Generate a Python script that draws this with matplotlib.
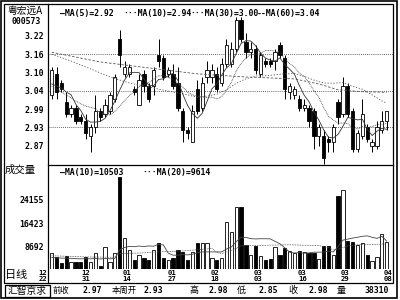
import matplotlib.pyplot as plt
from matplotlib.patches import Rectangle

plt.rcParams['font.family'] = ['DejaVu Sans Mono']
cjk = ['Noto Sans CJK SC', 'DejaVu Sans']

# ---- daily candles (price) ----
opens = [3.03, 3.10, 3.07, 3.01, 2.97, 2.99, 2.96, 2.95, 2.90, 2.93,
         2.98, 2.97, 2.98, 3.02, 3.21, 3.10, 3.10, 3.05, 3.00, 3.10,
         3.06, 3.06, 3.16, 3.15, 3.10, 3.10, 3.07, 2.98, 2.92, 2.88,
         3.05, 2.99, 3.09, 3.09, 3.10, 3.07, 3.13, 3.13, 3.18, 3.27,
         3.20, 3.17, 3.18, 3.10, 3.14, 3.14, 3.14, 3.19, 3.15, 3.04,
         3.03, 3.02, 2.99, 2.99, 2.98, 2.90, 2.90, 2.89, 2.88, 3.01,
         2.97, 3.06, 2.98, 2.86, 2.90, 2.93, 2.87, 2.87, 2.92, 2.95]
highs = [3.12, 3.12, 3.08, 3.04, 3.00, 3.00, 2.97, 2.97, 2.94, 3.03,
         2.99, 3.02, 3.04, 3.10, 3.24, 3.14, 3.13, 3.06, 3.10, 3.11,
         3.07, 3.12, 3.21, 3.16, 3.12, 3.13, 3.12, 2.99, 2.93, 3.00,
         3.08, 3.09, 3.14, 3.13, 3.12, 3.15, 3.21, 3.20, 3.28, 3.28,
         3.23, 3.20, 3.19, 3.17, 3.15, 3.15, 3.18, 3.20, 3.16, 3.07,
         3.06, 3.03, 3.02, 3.00, 2.99, 2.94, 2.92, 2.90, 2.94, 3.02,
         3.09, 3.07, 2.99, 2.92, 3.02, 2.94, 2.89, 2.95, 2.98, 2.98]
lows = [3.02, 3.02, 3.04, 2.96, 2.96, 2.94, 2.94, 2.89, 2.85, 2.91,
        2.95, 2.96, 2.97, 3.01, 3.12, 3.09, 3.09, 3.03, 3.00, 3.04,
        3.01, 3.03, 3.12, 3.08, 3.09, 3.05, 2.98, 2.88, 2.89, 2.88,
        2.97, 2.98, 3.07, 3.07, 3.04, 3.06, 3.12, 3.12, 3.17, 3.20,
        3.15, 3.15, 3.10, 3.09, 3.12, 3.12, 3.11, 3.15, 3.02, 3.02,
        3.02, 2.98, 2.98, 2.93, 2.86, 2.87, 2.81, 2.85, 2.85, 2.94,
        2.96, 2.96, 2.85, 2.85, 2.89, 2.88, 2.85, 2.86, 2.91, 2.92]
closes = [3.11, 3.04, 3.05, 2.97, 2.99, 2.95, 2.95, 2.91, 2.93, 2.98,
          2.96, 3.00, 3.03, 3.09, 3.16, 3.12, 3.12, 3.04, 3.08, 3.06,
          3.02, 3.11, 3.14, 3.09, 3.11, 3.06, 2.99, 2.92, 2.91, 2.98,
          2.98, 3.07, 3.11, 3.11, 3.05, 3.13, 3.19, 3.18, 3.27, 3.21,
          3.17, 3.18, 3.11, 3.16, 3.13, 3.13, 3.17, 3.16, 3.05, 3.06,
          3.05, 2.99, 3.00, 2.95, 2.90, 2.93, 2.83, 2.88, 2.93, 2.96,
          3.06, 2.97, 2.86, 2.91, 2.97, 2.89, 2.88, 2.93, 2.95, 2.98]
volume = [6635, 5208, 3217, 5540, 3649, 3700, 3580, 5308, 3620, 6535,
          2222, 8526, 3649, 6635, 31752, 11512, 7531, 4213, 5872, 4876,
          4213, 7531, 9853, 4876, 4213, 4876, 7531, 6867, 4213, 6867,
          9853, 9853, 9853, 4876, 4213, 4876, 16921, 13603, 21798, 21798,
          9190, 5872, 8858, 5540, 4213, 4544, 8526, 5872, 8194, 7199,
          6535, 7199, 6867, 6535, 6535, 4544, 8858, 8858, 5872, 25448,
          27500, 10500, 10300, 9100, 9853, 5900, 3980, 5308, 12800, 10300]

# ---- moving averages ----
ma5 = [3.067, 3.060, 3.054, 3.041, 3.032, 3.001, 2.982, 2.954, 2.945, 2.945,
       2.947, 2.957, 2.981, 3.012, 3.047, 3.079, 3.102, 3.104, 3.103, 3.083,
       3.063, 3.061, 3.081, 3.083, 3.093, 3.101, 3.078, 3.034, 2.998, 2.972,
       2.957, 2.973, 3.011, 3.051, 3.067, 3.095, 3.118, 3.132, 3.164, 3.196,
       3.205, 3.204, 3.189, 3.166, 3.150, 3.143, 3.140, 3.150, 3.129, 3.114,
       3.098, 3.062, 3.031, 3.010, 2.978, 2.952, 2.921, 2.897, 2.894, 2.906,
       2.932, 2.960, 2.956, 2.952, 2.954, 2.922, 2.902, 2.916, 2.925, 2.922]
ma10 = [3.060, 3.051, 3.041, 3.032, 3.022, 3.012, 3.003, 2.996, 2.992, 2.988,
        2.974, 2.970, 2.968, 2.979, 2.996, 3.013, 3.030, 3.043, 3.058, 3.065,
        3.071, 3.082, 3.093, 3.093, 3.088, 3.082, 3.069, 3.057, 3.040, 3.032,
        3.029, 3.025, 3.023, 3.025, 3.019, 3.026, 3.046, 3.072, 3.108, 3.132,
        3.150, 3.161, 3.161, 3.165, 3.173, 3.174, 3.172, 3.170, 3.147, 3.132,
        3.121, 3.101, 3.091, 3.070, 3.046, 3.025, 2.992, 2.964, 2.952, 2.942,
        2.942, 2.940, 2.926, 2.923, 2.930, 2.927, 2.931, 2.936, 2.938, 2.941]
ma30_x = [0, 4, 8, 12, 16, 20, 24, 28, 30, 32, 34, 36, 38, 40, 42, 44, 46,
          48, 50, 52, 54, 56, 58, 60, 62, 64, 66, 68, 69]
ma30 = [3.162, 3.140, 3.115, 3.089, 3.070, 3.057, 3.044, 3.032, 3.024, 3.028,
        3.034, 3.048, 3.069, 3.083, 3.092, 3.093, 3.096, 3.099, 3.100, 3.091,
        3.079, 3.070, 3.069, 3.071, 3.059, 3.050, 3.032, 3.013, 3.005]
ma60_x = [0, 10, 20, 30, 40, 50, 55, 59, 64, 69]
ma60 = [3.168, 3.137, 3.118, 3.099, 3.089, 3.083, 3.067, 3.048, 3.042, 3.040]

vol_ma10 = [5000, 4950, 4850, 4800, 4750, 4650, 4600, 4650, 4600, 4700,
            4550, 4700, 4600, 4747, 7557, 8344, 8732, 8622, 8845, 8679,
            8878, 8778, 9399, 9223, 6469, 5805, 5805, 6071, 5905, 6104,
            6668, 6900, 6900, 6900, 6900, 6900, 7839, 8513, 10271, 11764,
            11698, 11300, 11201, 11267, 11267, 11234, 10394, 9621, 8261, 6801,
            6535, 6668, 6469, 6568, 6801, 6801, 6834, 7132, 6900, 8725,
            10822, 11152, 11495, 11752, 12083, 12219, 11731, 11376, 12069, 10503]
vol_ma20_x = [0, 4, 8, 13, 14, 18, 23, 26, 30, 33, 34, 35, 36, 37, 38, 39,
              42, 44, 49, 52, 55, 56, 57, 58, 59, 61, 64, 66, 69]
vol_ma20 = [5600, 5400, 5200, 5100, 6400, 6500, 7000, 7100, 7600, 8062,
            6685, 6353, 6822, 7292, 8088, 8934, 9000, 9084, 9283, 9100,
            9017, 8614, 8377, 7580, 7763, 8910, 9442, 9282, 9614]

price_ticks = [3.22, 3.1617, 3.1033, 3.045, 2.9867, 2.9283, 2.87]
price_labels = ['3.22', '3.16', '3.10', '3.04', '2.99', '2.93', '2.87']
grid_levels = [3.1617, 3.045, 2.9283]
vol_ticks = [8692, 16423, 24155]
date_idx = [-1.8, 7.1, 15.5, 24.8, 33.6, 42.5, 51.6, 60.4, 69.3]
date_labels = ['12\n22', '12\n31', '01\n14', '01\n27', '02\n18',
               '03\n03', '03\n16', '03\n29', '04\n08']

# ---- figure ----
W, H = 400.0, 300.0
fig = plt.figure(figsize=(4, 3), dpi=100)


def box(x0, y0, x1, y1):
    return [x0 / W, 1 - y1 / H, (x1 - x0) / W, (y1 - y0) / H]


ov = fig.add_axes([0, 0, 1, 1])
ov.set_xlim(0, W)
ov.set_ylim(H, 0)
ov.axis('off')
ov.set_zorder(5)

axp = fig.add_axes(box(48, 4, 393, 165))
axv = fig.add_axes(box(48, 165, 393, 269))
for a in (axp, axv):
    a.set_facecolor('none')
    for s in a.spines.values():
        s.set_visible(False)
    a.set_xlim(-0.76, 70.3)
    a.set_xticks([])
    a.tick_params(axis='y', length=0, pad=3)

axp.set_ylim(2.8079, 3.3222)
axp.set_yticks(price_ticks)
axp.set_yticklabels(price_labels, fontsize=5.9, fontweight='bold')
axv.set_ylim(1226, 35734)
axv.set_yticks(vol_ticks)
axv.set_yticklabels([str(v) for v in vol_ticks], fontsize=5.9, fontweight='bold')

x = list(range(len(closes)))
fc = ['white' if c >= o else 'black' for o, c in zip(opens, closes)]
body = [abs(c - o) for o, c in zip(opens, closes)]
base = [min(o, c) for o, c in zip(opens, closes)]

for lv in grid_levels:
    axp.axhline(lv, color='#333333', lw=0.6, ls=(0, (1, 1.5)), zorder=1)

axp.vlines(x, lows, highs, color='black', lw=0.7, zorder=2)
axp.bar(x, body, bottom=base, width=0.68, color=fc, edgecolor='black',
        lw=0.6, zorder=3)
axp.plot(x, ma5, color='#333333', lw=0.6, zorder=4)
axp.plot(x, ma10, color='#444444', lw=0.6, ls=(0, (1, 1)), zorder=4)
axp.plot(ma30_x, ma30, color='#555555', lw=0.6, ls=(0, (1.5, 2)), zorder=4)
axp.plot(ma60_x, ma60, color='#555555', lw=0.6, ls=(0, (3, 2)), zorder=4)

axv.bar(x, volume, width=0.68, color=fc, edgecolor='black', lw=0.6, zorder=3)
axv.plot(x, vol_ma10, color='#444444', lw=0.6, zorder=4)
axv.plot(vol_ma20_x, vol_ma20, color='#555555', lw=0.6, ls=(0, (1, 1)), zorder=4)

for xi, lab in zip(date_idx, date_labels):
    axv.text(xi, -0.07, lab, transform=axv.get_xaxis_transform(),
             ha='center', va='center', fontsize=5.2, fontweight='bold',
             linespacing=0.95, clip_on=False)

# ---- frame ----
ov.add_patch(Rectangle((1, 1), 396, 297, fill=False, lw=1.2, ec='black'))
ov.add_patch(Rectangle((4, 4), 389, 279, fill=False, lw=0.9, ec='black'))
ov.plot([48, 48], [4, 283], color='black', lw=0.9)
ov.plot([48, 393], [165, 165], color='black', lw=0.9)
ov.add_patch(Rectangle((5, 284.5), 45, 12, fill=False, lw=0.9, ec='black'))

# ---- labels ----
mono = dict(fontsize=5.9, fontweight='bold', va='center')
ov.text(7, 11, '粤宏远A', family=cjk, fontsize=7, va='center')
ov.text(12, 21.5, '000573', **mono)
ov.text(5, 170, '成交量', family=cjk, fontsize=7.5, va='center')
ov.text(5, 275, '日线', family=cjk, fontsize=8, va='center')

ov.text(60, 13.5, '—MA(5)=2.92', **mono)
ov.text(123, 13.5, '···MA(10)=2.94', **mono)
ov.text(190, 13.5, '···MA(30)=3.00', **mono)
ov.text(257, 13.5, '--MA(60)=3.04', **mono)
ov.text(60, 172, '—MA(10)=10503', **mono)
ov.text(142, 172, '···MA(20)=9614', **mono)

yb = 290.5
ov.text(27.5, yb, '汇智京求', family=cjk, fontsize=7, ha='center', va='center')
ov.text(53, yb, '前收', family=cjk, fontsize=6, va='center')
ov.text(102, yb, '2.97', ha='right', **mono)
ov.text(112, yb, '本周开', family=cjk, fontsize=6, va='center')
ov.text(163, yb, '2.93', ha='right', **mono)
ov.text(189, yb, '高', family=cjk, fontsize=6.5, va='center')
ov.text(228, yb, '2.98', ha='right', **mono)
ov.text(237, yb, '低', family=cjk, fontsize=6.5, va='center')
ov.text(278, yb, '2.85', ha='right', **mono)
ov.text(288, yb, '收', family=cjk, fontsize=6.5, va='center')
ov.text(328, yb, '2.98', ha='right', **mono)
ov.text(337, yb, '量', family=cjk, fontsize=6.5, va='center')
ov.text(389, yb, '38310', ha='right', **mono)

fig.savefig('out.png', dpi=100, facecolor='white')
